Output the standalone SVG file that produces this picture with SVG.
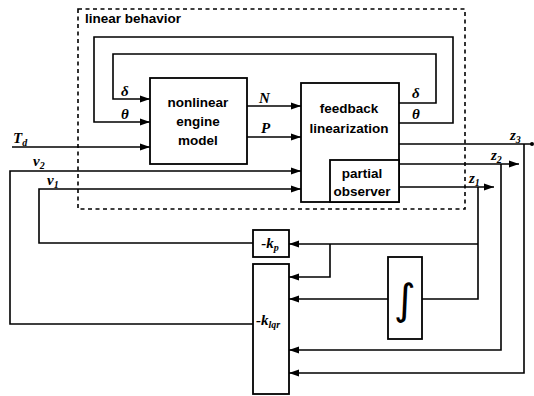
<svg xmlns="http://www.w3.org/2000/svg" width="534" height="396" viewBox="0 0 534 396">
<defs>
<marker id="ah" viewBox="0 0 10 8" refX="10" refY="4" markerWidth="10" markerHeight="8" markerUnits="userSpaceOnUse" orient="auto">
<path d="M0,0.5 L10,4 L0,7.5 Z" fill="#000"/>
</marker>
<style>
.box{fill:#fff;stroke:#000;stroke-width:1.8}
.ln{fill:none;stroke:#000;stroke-width:1.6}
.t{font-family:"Liberation Sans",Arial,sans-serif;font-weight:bold;font-size:13.5px;fill:#000}
.m{font-family:"Liberation Serif","Times New Roman",serif;font-weight:bold;font-style:italic;font-size:15px;fill:#000}
.c{text-anchor:middle}
</style>
</defs>
<rect width="534" height="396" fill="#fff"/>
<g id="linear-behavior">
<rect x="78" y="9" width="387" height="200" fill="none" stroke="#000" stroke-width="1.6" stroke-dasharray="4,3.5"/>
<text class="t" x="85" y="23">linear behavior</text>
</g>
<g id="connectors">
<polyline class="ln" points="399,123 453,123 453,37 94,37 94,122 150,122" marker-end="url(#ah)"/>
<polyline class="ln" points="399,103 436,103 436,54 113,54 113,99 150,99" marker-end="url(#ah)"/>
<line class="ln" x1="247" y1="106" x2="301" y2="106" marker-end="url(#ah)"/>
<line class="ln" x1="247" y1="137" x2="301" y2="137" marker-end="url(#ah)"/>
<line class="ln" x1="12" y1="147" x2="150" y2="147" marker-end="url(#ah)"/>
<polyline class="ln" points="253,324 10,324 10,171 301,171" marker-end="url(#ah)"/>
<polyline class="ln" points="253,243 39,243 39,189 301,189" marker-end="url(#ah)"/>
<polyline class="ln" points="399,144 531,144"/>
<circle cx="532" cy="144" r="2" fill="#000"/>
<polyline class="ln" points="524,144 524,373 289,373" marker-end="url(#ah)"/>
<line class="ln" x1="399" y1="164" x2="519" y2="164" marker-end="url(#ah)"/>
<polyline class="ln" points="501,164 501,350 289,350" marker-end="url(#ah)"/>
<line class="ln" x1="399" y1="187" x2="494" y2="187" marker-end="url(#ah)"/>
<polyline class="ln" points="478,187 478,299 422,299"/>
<line class="ln" x1="478" y1="244" x2="289" y2="244" marker-end="url(#ah)"/>
<polyline class="ln" points="330,244 330,277 289,277" marker-end="url(#ah)"/>
<line class="ln" x1="388" y1="299" x2="289" y2="299" marker-end="url(#ah)"/>
</g>
<g id="labels">
<text class="m" x="121" y="96">δ</text>
<text class="m" x="121" y="119">θ</text>
<text class="m" x="412" y="98">δ</text>
<text class="m" x="412" y="119">θ</text>
<text class="m" x="259" y="103">N</text>
<text class="m" x="261" y="133">P</text>
<text class="m" x="13" y="143">T<tspan font-size="10" dy="3">d</tspan></text>
<text class="m" x="33" y="166">v<tspan font-size="10" dy="3">2</tspan></text>
<text class="m" x="47" y="185">v<tspan font-size="10" dy="3">1</tspan></text>
<text class="m" x="510" y="140">z<tspan font-size="10" dy="3">3</tspan></text>
<text class="m" x="491" y="160">z<tspan font-size="10" dy="3">2</tspan></text>
<text class="m" x="469" y="183">z<tspan font-size="10" dy="3">1</tspan></text>
</g>
<g id="nonlinear-engine-model">
<rect class="box" x="150" y="78" width="97" height="86"/>
<text class="t c" x="198" y="107">nonlinear</text>
<text class="t c" x="198" y="126">engine</text>
<text class="t c" x="198" y="145">model</text>
</g>
<g id="feedback-linearization">
<rect class="box" x="301" y="83" width="98" height="119"/>
<text class="t c" x="349" y="113">feedback</text>
<text class="t c" x="349" y="133">linearization</text>
</g>
<g id="partial-observer">
<rect class="box" x="330" y="160" width="69" height="42"/>
<text class="t c" x="362" y="178">partial</text>
<text class="t c" x="362" y="196">observer</text>
</g>
<g id="kp">
<rect class="box" x="253" y="230" width="36" height="27"/>
<text class="m c" x="270" y="248">-k<tspan font-size="10" dy="3">p</tspan></text>
</g>
<g id="klqr">
<rect class="box" x="253" y="264" width="36" height="130"/>
<text class="m" x="256" y="325">-k<tspan font-size="10" dy="3">lqr</tspan></text>
</g>
<g id="integrator">
<rect class="box" x="388" y="257" width="34" height="82"/>
<text x="405" y="314" font-family="'DejaVu Sans',sans-serif" font-size="42" text-anchor="middle" fill="#000">∫</text>
</g>
</svg>
